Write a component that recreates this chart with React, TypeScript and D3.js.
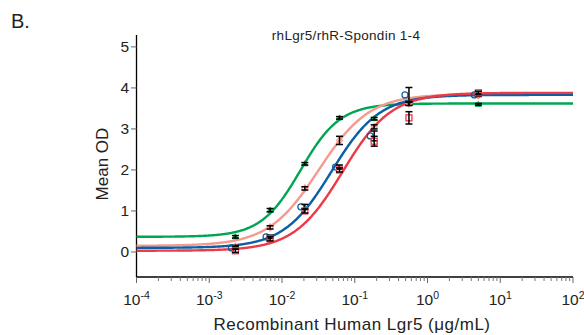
import React from "react";
import * as d3 from "d3";

const conc = [0.00229, 0.00686, 0.0206, 0.0617, 0.185, 0.556, 5];
const greenVals = [0.37, 1.02, 2.15, 3.27, 3.25, 3.62, 3.6];
const salmonVals = [0.13, 0.6, 1.55, 2.72, 3.05, 3.62, 3.82];
const blueVals = [0.1, 0.37, 1.1, 2.07, 2.83, 3.83, 3.83];
const redVals = [0.03, 0.32, 1.0, 2.0, 2.7, 3.27, 3.88];
const greenErr = [0.03, 0.04, 0.03, 0.03, 0.03, 0.03, 0.02];
const salmonErr = [0.03, 0.04, 0.04, 0.1, 0.05, 0.05, 0.03];
const blueErr = [0.03, 0.04, 0.06, 0.05, 0.12, 0.18, 0.03];
const redErr = [0.04, 0.05, 0.05, 0.05, 0.12, 0.15, 0.04];
// 4PL fit parameters: bottom, top, EC50, hill
const greenFit = [0.37, 3.62, 0.018, 1.6];
const salmonFit = [0.15, 3.85, 0.032, 1.25];
const blueFit = [0.1, 3.83, 0.048, 1.32];
const redFit = [0.03, 3.88, 0.068, 1.3];
const yTicks = [0, 1, 2, 3, 4, 5];
const xTickExps = [-4, -3, -2, -1, 0, 1, 2];

const series = [
  { name: "green", vals: greenVals, err: greenErr, fit: greenFit, color: "#00a651", marker: "tri" },
  { name: "salmon", vals: salmonVals, err: salmonErr, fit: salmonFit, color: "#f59a8c", marker: "dia" },
  { name: "blue", vals: blueVals, err: blueErr, fit: blueFit, color: "#0a5fa5", marker: "circ" },
  { name: "red", vals: redVals, err: redErr, fit: redFit, color: "#ee3a45", marker: "sq" },
];

const font = "'Liberation Sans', Arial, sans-serif";

export default function App() {
  const W = 584, H = 335;
  const x = d3.scaleLog().domain([1e-4, 1e2]).range([136.5, 573]);
  const y = d3.scaleLinear().domain([-0.61, 5.29]).range([277, 35]);
  const fourPL = (f: number[], c: number) => f[0] + (f[1] - f[0]) / (1 + Math.pow(f[2] / c, f[3]));
  const xs = d3.range(0, 601).map((i) => Math.pow(10, -4 + (6 * i) / 600));

  const minor: number[] = [];
  for (let e = -4; e < 2; e++) for (let k = 2; k <= 9; k++) minor.push(k * Math.pow(10, e));

  const marker = (m: string, cx: number, cy: number, color: string, key: string) => {
    if (m === "tri")
      return <path key={key} d={`M${cx},${cy - 3}L${cx + 3},${cy + 2}L${cx - 3},${cy + 2}Z`} fill={color} stroke={color} strokeWidth={1} />;
    if (m === "dia")
      return <path key={key} d={`M${cx},${cy - 3.5}L${cx + 3},${cy}L${cx},${cy + 3.5}L${cx - 3},${cy}Z`} fill="none" stroke={color} strokeWidth={1.2} />;
    if (m === "circ")
      return <circle key={key} cx={cx - 4} cy={cy} r={3} fill="none" stroke={color} strokeWidth={1.2} />;
    return <rect key={key} x={cx - 3} y={cy - 3} width={6} height={6} fill="none" stroke={color} strokeWidth={1.3} />;
  };

  return (
    <svg width={W} height={H} style={{ position: "absolute", left: 0, top: 0, background: "#fff" }} fontFamily={font}>
      <text x={11} y={28} fontSize={20} fill="#222">B.</text>
      <text x={346} y={40} fontSize={13.5} textAnchor="middle" fill="#222" letterSpacing={0.3}>rhLgr5/rhR-Spondin 1-4</text>

      {/* axes */}
      <line x1={136.5} x2={136.5} y1={35} y2={277} stroke="#000" strokeWidth={1.3} />
      <line x1={136.5} x2={573} y1={277} y2={277} stroke="#000" strokeWidth={1.3} />
      {yTicks.map((t) => (
        <g key={"y" + t}>
          <line x1={131} x2={136.5} y1={y(t)} y2={y(t)} stroke="#666" strokeWidth={1} />
          <text x={129} y={y(t) + 5.5} fontSize={15.5} textAnchor="end" fill="#222">{t}</text>
        </g>
      ))}
      {minor.map((m, i) => (
        <line key={"mn" + i} x1={x(m)} x2={x(m)} y1={277} y2={281} stroke="#777" strokeWidth={1} />
      ))}
      {xTickExps.map((e) => (
        <g key={"x" + e}>
          <line x1={x(Math.pow(10, e))} x2={x(Math.pow(10, e))} y1={277} y2={283} stroke="#666" strokeWidth={1} />
          <text x={x(Math.pow(10, e))} y={305} fontSize={15.5} textAnchor="middle" fill="#222">
            10<tspan dy={-6} fontSize={10.5}>{e}</tspan>
          </text>
        </g>
      ))}
      <text x={352} y={330} fontSize={17} textAnchor="middle" fill="#222" letterSpacing={0.5}>Recombinant Human Lgr5 (μg/mL)</text>
      <text transform={`translate(108,164) rotate(-90)`} fontSize={17} textAnchor="middle" fill="#222">Mean OD</text>

      {/* fitted curves */}
      {series.map((s) => (
        <path key={"c" + s.name} d={d3.line<number>().x((c) => x(c)).y((c) => y(fourPL(s.fit, c)))(xs) as string} fill="none" stroke={s.color} strokeWidth={2.4} />
      ))}

      {/* markers and error bars */}
      {series.map((s) =>
        s.vals.map((v, i) => {
          const cx = x(conc[i]);
          const hi = y(v + s.err[i]);
          const lo = y(v - s.err[i]);
          return (
            <g key={s.name + i}>
              {marker(s.marker, cx, y(v), s.color, "m")}
              <line x1={cx} x2={cx} y1={hi} y2={lo} stroke="#000" strokeWidth={1.5} />
              <line x1={cx - 3.5} x2={cx + 3.5} y1={hi} y2={hi} stroke="#000" strokeWidth={1.5} />
              <line x1={cx - 3.5} x2={cx + 3.5} y1={lo} y2={lo} stroke="#000" strokeWidth={1.5} />
            </g>
          );
        })
      )}
    </svg>
  );
}
